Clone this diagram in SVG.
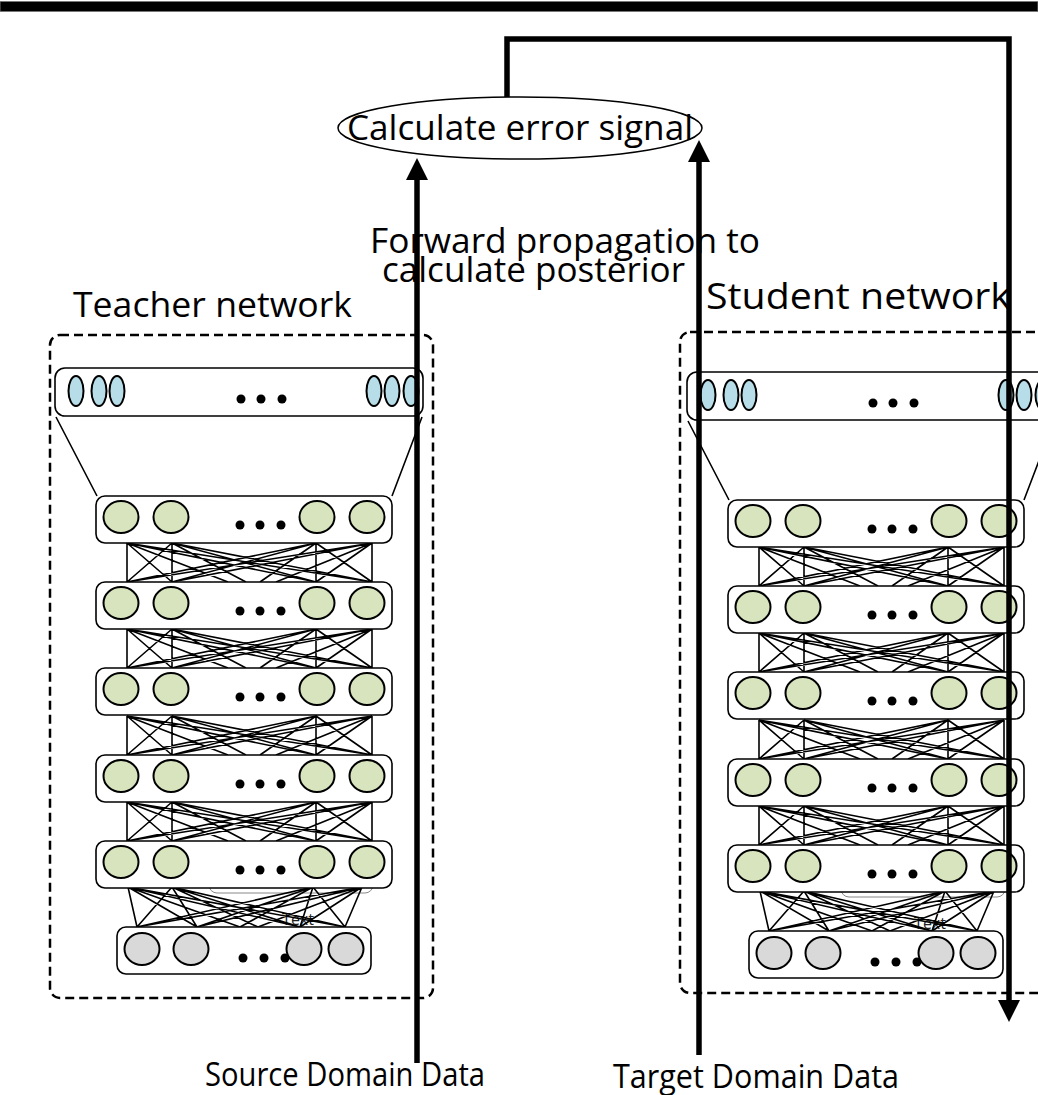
<svg xmlns="http://www.w3.org/2000/svg" width="1038" height="1095" viewBox="0 0 1038 1095">
  <style>
    .lbl { font-family: "Open Sans", "Noto Sans", "DejaVu Sans", sans-serif; font-size: 35px; fill: #000; }
    .big { font-size: 37px; }
    .small { font-size: 32px; }
    .box { fill: #fff; stroke: #000; stroke-width: 1.6; }
    .ln { stroke: #000; stroke-width: 1.6; fill: none; }
    .w { stroke: #000; stroke-width: 1.6; fill: none; }
    .blue { fill: #b7dde8; stroke: #000; stroke-width: 2; }
    .green { fill: #d7e4bd; stroke: #000; stroke-width: 2; }
    .grey { fill: #d9d9d9; stroke: #000; stroke-width: 2; }
    .dot { fill: #000; }
    .frame { fill: none; stroke: #000; stroke-width: 2.5; stroke-dasharray: 9 5; }
    .flow { fill: none; stroke: #000; stroke-width: 5.5; stroke-linejoin: miter; }
    .ghost { font-family: "Open Sans", sans-serif; font-size: 16px; fill: #222; }
  </style>
  <defs>
    <marker id="head" markerUnits="userSpaceOnUse" markerWidth="22" markerHeight="22" viewBox="0 0 22 22" refX="0" refY="11" orient="auto">
      <path d="M0,0 L22,11 L0,22 z" fill="#000"/>
    </marker>
    <!-- output (softmax) layer -->
    <g id="out-layer">
      <rect class="box" x="0" y="0" width="368" height="48" rx="10"/>
      <ellipse class="blue" cx="21" cy="23" rx="7.5" ry="15"/>
      <ellipse class="blue" cx="44" cy="23" rx="7.5" ry="15"/>
      <ellipse class="blue" cx="62" cy="23" rx="7.5" ry="15"/>
      <ellipse class="blue" cx="319" cy="23" rx="7.5" ry="15"/>
      <ellipse class="blue" cx="337" cy="23" rx="7.5" ry="15"/>
      <ellipse class="blue" cx="356" cy="23" rx="7.5" ry="15"/>
      <circle class="dot" cx="186" cy="31" r="4.5"/>
      <circle class="dot" cx="206" cy="31" r="4.5"/>
      <circle class="dot" cx="227" cy="31" r="4.5"/>
    </g>
    <!-- hidden layer -->
    <g id="hid-layer">
      <rect class="box" x="0" y="0" width="296" height="47" rx="9"/>
      <ellipse class="green" cx="25" cy="21" rx="17.5" ry="16"/>
      <ellipse class="green" cx="75" cy="21" rx="17.5" ry="16"/>
      <ellipse class="green" cx="221" cy="21" rx="17.5" ry="16"/>
      <ellipse class="green" cx="271" cy="21" rx="17.5" ry="16"/>
      <circle class="dot" cx="144" cy="29" r="4.5"/>
      <circle class="dot" cx="164" cy="29" r="4.5"/>
      <circle class="dot" cx="185" cy="29" r="4.5"/>
    </g>
    <!-- input layer -->
    <g id="in-layer">
      <rect class="box" x="0" y="0" width="254" height="47" rx="9"/>
      <ellipse class="grey" cx="25" cy="22" rx="17.5" ry="16"/>
      <ellipse class="grey" cx="74" cy="22" rx="17.5" ry="16"/>
      <ellipse class="grey" cx="187" cy="22" rx="17.5" ry="16"/>
      <ellipse class="grey" cx="229" cy="22" rx="17.5" ry="16"/>
      <circle class="dot" cx="126" cy="31" r="4.5"/>
      <circle class="dot" cx="147" cy="31" r="4.5"/>
      <circle class="dot" cx="168" cy="31" r="4.5"/>
    </g>
    <!-- full connections between two hidden layers -->
    <g id="mesh">
      <path class="w" d="M31,0 V39 M76,0 V39 M220,-3 V39 M276,0 V39
        M31,0 L76,39 M31,0 L220,39 M31,0 L276,39 M31,0 L132,39
        M76,0 L31,39 M76,0 L220,39 M76,0 L276,39 M76,0 L150,39
        M220,0 L31,39 M220,0 L76,39 M220,0 L276,39 M220,0 L164,39
        M276,0 L31,39 M276,0 L76,39 M276,0 L220,39 M276,0 L180,39"/>
    </g>
    <!-- connections from input layer to first hidden layer -->
    <g id="in-mesh">
      <path class="w" d="M32,0 L41,40 M32,0 L101,40 M32,0 L204,40 M32,0 L249,40 M32,0 L144,40
        M76,0 L41,40 M76,0 L101,40 M76,0 L204,40 M76,0 L249,40 M76,0 L162,40
        M217,0 L41,40 M217,0 L101,40 M217,0 L204,40 M217,0 L249,40 M217,0 L144,40
        M266,0 L41,40 M266,0 L101,40 M266,0 L204,40 M266,0 L249,40 M266,0 L162,40"/>
    </g>
  </defs>

  <!-- header rule -->
  <rect x="0" y="1.5" width="1038" height="10" fill="#000" stroke="#777" stroke-width="1"/>

  <!-- error node -->
  <g id="error-signal">
    <ellipse cx="520" cy="128" rx="182" ry="31" fill="#fff" stroke="#000" stroke-width="1.5"/>
    <text class="lbl" x="347" y="140" textLength="346" lengthAdjust="spacingAndGlyphs">Calculate error signal</text>
  </g>

  <g id="forward-label">
    <text class="lbl" x="370" y="253" textLength="390" lengthAdjust="spacingAndGlyphs">Forward propagation to</text>
    <text class="lbl" x="382" y="282" textLength="303" lengthAdjust="spacingAndGlyphs">calculate posterior</text>
  </g>

  <!-- teacher network -->
  <g id="teacher">
    <text class="lbl" x="73" y="317" textLength="279" lengthAdjust="spacingAndGlyphs">Teacher network</text>
    <rect class="frame" x="50" y="335" width="383" height="663" rx="10"/>
    <g id="teacher-output">
      <use href="#out-layer" x="55" y="368"/>
      <path class="ln" d="M56,417 L97,496 M422,417 L392,496"/>
    </g>
    <g id="teacher-hidden">
      <rect x="209" y="850" width="164" height="43" rx="8" fill="#fff" stroke="#888" stroke-width="1"/>
      <text class="ghost" x="298" y="925" text-anchor="middle">Text</text>
      <use href="#mesh" x="96" y="543"/>
      <use href="#mesh" x="96" y="629"/>
      <use href="#mesh" x="96" y="716"/>
      <use href="#mesh" x="96" y="802"/>
      <use href="#in-mesh" x="96" y="887"/>
      <use href="#hid-layer" x="96" y="496"/>
      <use href="#hid-layer" x="96" y="582"/>
      <use href="#hid-layer" x="96" y="668"/>
      <use href="#hid-layer" x="96" y="755"/>
      <use href="#hid-layer" x="96" y="841"/>
    </g>
    <g id="teacher-input">
      <use href="#in-layer" x="117" y="927"/>
    </g>
  </g>

  <!-- student network -->
  <g id="student">
    <text class="lbl big" x="706" y="309" textLength="305" lengthAdjust="spacingAndGlyphs">Student network</text>
    <rect class="frame" x="680" y="332" width="383" height="661" rx="10"/>
    <g transform="translate(632,4)">
      <g id="student-output">
        <use href="#out-layer" x="55" y="368"/>
        <path class="ln" d="M56,417 L97,496 M422,417 L392,496"/>
      </g>
      <g id="student-hidden">
        <rect x="209" y="850" width="164" height="43" rx="8" fill="#fff" stroke="#888" stroke-width="1"/>
        <text class="ghost" x="298" y="925" text-anchor="middle">Text</text>
        <use href="#mesh" x="96" y="543"/>
        <use href="#mesh" x="96" y="629"/>
        <use href="#mesh" x="96" y="716"/>
        <use href="#mesh" x="96" y="802"/>
        <use href="#in-mesh" x="96" y="887"/>
        <use href="#hid-layer" x="96" y="496"/>
        <use href="#hid-layer" x="96" y="582"/>
        <use href="#hid-layer" x="96" y="668"/>
        <use href="#hid-layer" x="96" y="755"/>
        <use href="#hid-layer" x="96" y="841"/>
      </g>
      <g id="student-input">
        <use href="#in-layer" x="117" y="927"/>
      </g>
    </g>
  </g>

  <!-- data flow -->
  <g id="connectors">
    <line class="flow" x1="417" y1="1063" x2="417" y2="180" marker-end="url(#head)"/>
    <line class="flow" x1="699" y1="1055" x2="699" y2="162" marker-end="url(#head)"/>
    <polyline class="flow" points="507,97 507,39 1009,39 1009,1000" marker-end="url(#head)"/>
  </g>

  <g id="data-labels">
    <text class="lbl small" x="205" y="1086" textLength="280" lengthAdjust="spacingAndGlyphs">Source Domain Data</text>
    <text class="lbl small" x="613" y="1088" textLength="286" lengthAdjust="spacingAndGlyphs">Target Domain Data</text>
  </g>
</svg>
